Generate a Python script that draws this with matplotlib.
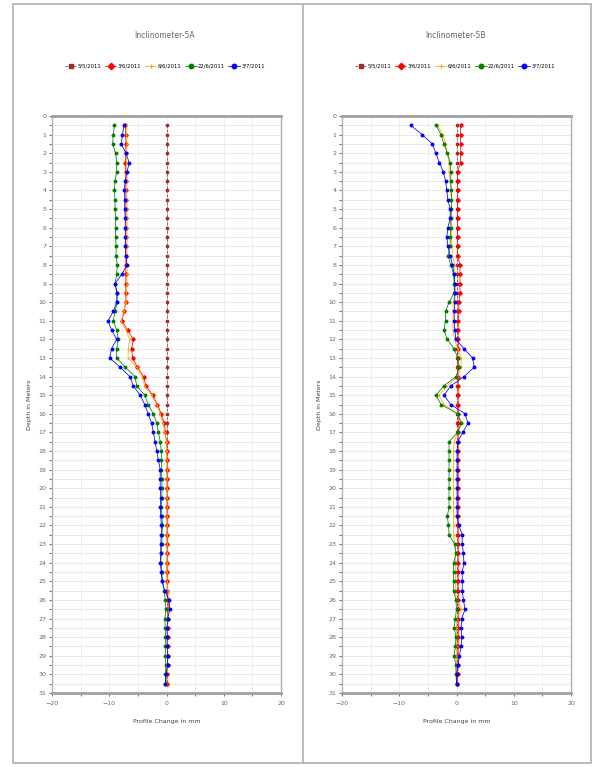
import numpy as np
import matplotlib.pyplot as plt
from matplotlib.lines import Line2D
from matplotlib.patches import Rectangle
from matplotlib.ticker import MultipleLocator

# depth of each reading in metres
depth = [0.5, 1.0, 1.5, 2.0, 2.5, 3.0, 3.5, 4.0, 4.5, 5.0, 5.5, 6.0, 6.5, 7.0, 7.5,
         8.0, 8.5, 9.0, 9.5, 10.0, 10.5, 11.0, 11.5, 12.0, 12.5, 13.0, 13.5, 14.0,
         14.5, 15.0, 15.5, 16.0, 16.5, 17.0, 17.5, 18.0, 18.5, 19.0, 19.5, 20.0,
         20.5, 21.0, 21.5, 22.0, 22.5, 23.0, 23.5, 24.0, 24.5, 25.0, 25.5, 26.0,
         26.5, 27.0, 27.5, 28.0, 28.5, 29.0, 29.5, 30.0, 30.5]

dates = ["5/5/2011", "3/6/2011", "6/6/2011", "22/6/2011", "3/7/2011"]

# --- inclinometer 5A, profile change in mm ---
a_d1 = [0.0, 0.0, 0.0, 0.0, 0.0, 0.0, 0.0, 0.0, 0.0, 0.0, 0.0, 0.0, 0.0, 0.0, 0.0,
        0.0, 0.0, 0.0, 0.0, 0.0, 0.0, 0.0, 0.0, 0.0, 0.0, 0.0, 0.0, 0.0, 0.0, 0.0,
        0.0, 0.0, 0.0, 0.0, 0.0, 0.0, 0.0, 0.0, 0.0, 0.0, 0.0, 0.0, 0.0, 0.0, 0.0,
        0.0, 0.0, 0.0, 0.0, 0.0, 0.0, 0.0, 0.0, 0.0, 0.0, 0.0, 0.0, 0.0, 0.0, 0.0, 0.0]
a_d2 = [-7.2, -7.1, -7.1, -7.1, -7.2, -7.1, -7.1, -7.1, -7.1, -7.1, -7.1, -7.1, -7.1,
        -7.1, -7.1, -7.1, -7.1, -7.1, -7.1, -7.1, -7.4, -7.8, -6.8, -5.8, -6.1, -5.9,
        -5.1, -4.0, -3.6, -2.4, -1.6, -0.9, -0.4, -0.2, 0.0, 0.1, 0.1, 0.1, 0.1, 0.1,
        0.1, 0.1, 0.1, 0.1, 0.1, 0.1, 0.1, 0.1, 0.1, 0.1, 0.1, 0.3, 0.3, 0.2, 0.2,
        0.2, 0.2, 0.2, 0.2, 0.0, 0.0]
a_d3 = [-6.9, -7.0, -6.9, -7.0, -7.0, -6.9, -6.9, -7.0, -6.9, -6.9, -6.9, -6.9, -6.9,
        -6.9, -6.9, -6.9, -6.9, -6.9, -7.0, -7.1, -7.5, -7.9, -7.1, -6.4, -6.7, -6.7,
        -5.2, -4.3, -3.8, -2.6, -1.7, -1.1, -0.6, -0.3, 0.0, 0.0, 0.1, 0.1, 0.1, 0.1,
        0.1, 0.1, 0.1, 0.1, 0.1, 0.1, 0.1, 0.1, 0.1, 0.1, 0.2, 0.6, 0.4, 0.2, 0.2,
        0.2, 0.2, 0.2, 0.2, 0.1, 0.0]
a_d4 = [-9.1, -9.3, -9.4, -8.9, -8.7, -8.7, -9.0, -9.1, -9.0, -9.0, -8.9, -8.9, -8.9,
        -8.8, -8.8, -8.6, -8.7, -9.0, -8.7, -8.6, -9.0, -9.3, -8.7, -8.4, -8.7, -8.7,
        -7.2, -5.5, -5.2, -3.8, -3.2, -2.3, -1.7, -1.4, -1.1, -0.9, -0.9, -0.9, -0.8,
        -0.8, -0.8, -0.9, -0.8, -0.7, -0.8, -0.8, -0.9, -1.0, -0.8, -0.7, -0.4, -0.2,
        -0.1, -0.3, -0.2, -0.2, -0.2, -0.2, -0.1, -0.2, -0.2]
a_d5 = [-7.4, -7.7, -7.9, -7.1, -6.5, -6.9, -7.2, -7.4, -7.3, -7.3, -7.2, -7.2, -7.2,
        -7.2, -7.1, -6.9, -7.8, -9.0, -8.6, -8.7, -9.3, -10.2, -9.6, -8.7, -9.6, -9.9,
        -8.1, -6.4, -5.8, -4.6, -3.8, -3.2, -2.6, -2.3, -2.0, -1.7, -1.4, -1.1, -1.1,
        -1.1, -1.0, -1.1, -1.0, -0.9, -0.9, -1.0, -1.0, -1.1, -0.9, -0.8, -0.3, 0.4,
        0.6, 0.2, 0.1, 0.1, 0.1, 0.2, 0.2, -0.1, -0.2]

# --- inclinometer 5B, profile change in mm ---
b_d1 = [0.0, 0.0, 0.0, 0.0, 0.0, 0.0, 0.0, 0.0, 0.0, 0.0, 0.0, 0.0, 0.0, 0.0, 0.0,
        0.0, 0.0, 0.0, 0.0, 0.0, 0.0, 0.0, 0.0, 0.0, 0.0, 0.0, 0.0, 0.0, 0.0, 0.0,
        0.0, 0.0, 0.0, 0.0, 0.0, 0.0, 0.0, 0.0, 0.0, 0.0, 0.0, 0.0, 0.0, 0.0, 0.0,
        0.0, 0.0, 0.0, 0.0, 0.0, 0.0, 0.0, 0.0, 0.0, 0.0, 0.0, 0.0, 0.0, 0.0, 0.0, 0.0]
b_d2 = [0.7, 0.7, 0.7, 0.7, 0.7, 0.2, 0.2, 0.2, 0.2, 0.2, 0.2, 0.2, 0.2, 0.2, 0.2,
        0.6, 0.6, 0.6, 0.6, 0.4, 0.4, 0.3, 0.3, 0.3, 0.3, 0.2, 0.2, 0.3, 0.3, 0.3,
        0.3, 0.3, 0.3, 0.3, 0.3, 0.3, 0.3, 0.3, 0.3, 0.3, 0.3, 0.3, 0.3, 0.3, 0.3,
        0.3, 0.3, 0.3, 0.3, 0.3, 0.3, 0.3, 0.3, 0.3, 0.3, 0.3, 0.3, 0.3, 0.3, 0.2, 0.1]
b_d3 = [-3.3, -2.4, -1.9, -1.6, -1.3, -1.3, -1.1, -1.0, -0.9, -0.9, -0.9, -0.9, -0.9,
        -0.8, -0.7, -0.3, -0.3, -0.3, -0.2, -0.6, -0.6, -0.6, -0.6, -0.3, 0.2, 0.8,
        0.8, 0.2, -1.6, -3.1, -2.2, 0.2, 1.0, 0.2, -0.4, -0.5, -0.5, -0.5, -0.5, -0.5,
        -0.5, -0.5, -0.5, -0.5, -0.5, -0.3, -0.2, -0.2, -0.2, -0.2, -0.2, 0.0, 0.9,
        0.1, 0.0, 0.0, 0.0, 0.0, 0.0, 0.0, 0.0]
b_d4 = [-3.6, -2.7, -2.2, -1.6, -1.1, -1.0, -1.0, -0.9, -0.9, -0.9, -1.0, -1.0, -1.1,
        -1.1, -1.5, -1.0, -0.5, -0.4, -0.4, -1.3, -1.9, -1.9, -2.2, -1.6, -0.4, 0.2,
        0.5, -0.1, -2.2, -3.6, -2.7, 0.2, 0.8, 0.2, -1.3, -1.3, -1.3, -1.3, -1.3, -1.3,
        -1.3, -1.3, -1.6, -1.4, -1.3, -0.3, -0.1, -0.5, -0.5, -0.5, -0.5, -0.1, 0.0,
        -0.2, -0.4, -0.1, -0.2, -0.4, -0.1, -0.1, 0.0]
b_d5 = [-8.0, -6.0, -4.2, -3.6, -3.0, -2.3, -1.9, -1.7, -1.5, -1.1, -1.1, -1.5, -1.7,
        -1.5, -1.1, -0.7, -0.4, -0.3, -0.3, -0.3, -0.4, -0.4, -0.3, -0.1, 1.3, 2.8,
        3.1, 1.3, -1.0, -2.2, -1.0, 1.5, 2.0, 1.1, 0.2, 0.1, 0.1, 0.1, 0.1, 0.1, 0.1,
        0.1, 0.1, 0.4, 1.0, 1.0, 1.2, 1.3, 1.0, 1.0, 1.0, 1.2, 1.5, 0.9, 0.8, 0.9,
        0.8, 0.5, 0.3, 0.0, 0.0]

colors = ["#a52a2a", "#ff0000", "#ffa500", "#008000", "#0000ff"]
markers = ["s", "D", "|", "o", "o"]

fig = plt.figure(figsize=(5.96, 7.67), dpi=100)

# page frame and divider
fig.patches.append(Rectangle((13 / 596, 4 / 767), 578 / 596, 759 / 767,
                             transform=fig.transFigure, fill=False,
                             edgecolor="#b5b5b5", lw=1.3))
fig.lines.append(Line2D([303 / 596, 303 / 596], [4 / 767, 763 / 767],
                        transform=fig.transFigure, color="#b5b5b5", lw=1.3))

panels = [
    ("Inclinometer-5A", [a_d1, a_d2, a_d3, a_d4, a_d5], 52 / 596, 165 / 596),
    ("Inclinometer-5B", [b_d1, b_d2, b_d3, b_d4, b_d5], 342 / 596, 455 / 596),
]

for title, series, left, cx in panels:
    ax = fig.add_axes([left, 74 / 767, 229 / 596, 577 / 767])
    for vals, c, m, lab in zip(series, colors, markers, dates):
        ax.plot(vals, depth, color=c, marker=m, markersize=1.8, lw=0.55,
                linestyle="--" if m == "s" else "-", label=lab)
    ax.set_xlim(-20, 20)
    ax.set_ylim(31, 0)
    ax.xaxis.set_major_locator(MultipleLocator(10))
    ax.xaxis.set_minor_locator(MultipleLocator(5))
    ax.yaxis.set_major_locator(MultipleLocator(1))
    ax.yaxis.set_minor_locator(MultipleLocator(0.5))
    ax.grid(which="both", axis="y", color="#e6e6e6", lw=0.6)
    ax.grid(which="both", axis="x", color="#ececec", lw=0.6)
    ax.set_axisbelow(True)
    for side in ["left", "right"]:
        ax.spines[side].set_color("#b0b0b0")
        ax.spines[side].set_linewidth(1.0)
    for side in ["top", "bottom"]:
        ax.spines[side].set_color("#a0a0a0")
        ax.spines[side].set_linewidth(2.0)
    ax.tick_params(which="both", labelsize=4.5, labelcolor="#666666",
                   color="#555555", length=2.5, width=0.6)
    ax.tick_params(axis="y", which="major", pad=1.5)
    ax.set_xlabel("Profile Change in mm", fontsize=4.5, color="#444444", labelpad=9)
    ax.set_ylabel("Depth in Meters", fontsize=4.5, color="#444444", labelpad=5)

    fig.text(cx, 1 - 35 / 767, title, ha="center", va="center",
             fontsize=5.5, color="#666666")
    ax.legend(loc="center", bbox_to_anchor=(cx, 1 - 66 / 767),
              bbox_transform=fig.transFigure, ncol=5, fontsize=3.8,
              frameon=False, handlelength=2.2, handletextpad=0.3,
              columnspacing=0.6, markerscale=1.8)

fig.savefig("out.png", dpi=100)
